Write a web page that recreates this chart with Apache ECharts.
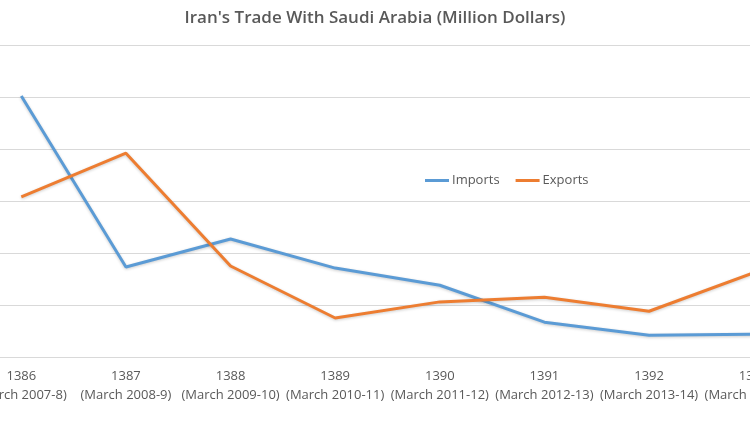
<!DOCTYPE html>
<html>
<head>
<meta charset="utf-8">
<script src="https://cdn.jsdelivr.net/npm/echarts@6/dist/echarts.min.js"></script>
<style>html,body{margin:0;padding:0;background:#fff;}#c{width:750px;height:422px;}</style>
</head>
<body>
<div id="c"></div>
<script>
var categories = ['1386\n(March 2007-8)', '1387\n(March 2008-9)', '1388\n(March 2009-10)', '1389\n(March 2010-11)', '1390\n(March 2011-12)', '1391\n(March 2012-13)', '1392\n(March 2013-14)', '1393\n(March 2014-15)'];
var imports = [502, 173, 227, 171, 138, 67, 42, 44];
var exports_ = [308, 392, 175, 75, 106, 115, 88, 162];
var seriesNames = ['Imports', 'Exports'];

var chart = echarts.init(document.getElementById('c'), null, {renderer: 'canvas'});
chart.setOption({
  animation: false,
  backgroundColor: '#ffffff',
  title: {
    text: "Iran's Trade With Saudi Arabia (Million Dollars)",
    left: 'center', top: 5,
    textStyle: {fontFamily: 'Open Sans', fontSize: 17, fontWeight: 600, color: '#595959'}
  },
  legend: {
    data: seriesNames,
    left: 420, top: 169,
    itemWidth: 24, itemHeight: 3, itemGap: 16,
    icon: 'rect',
    textStyle: {fontFamily: 'Open Sans', fontSize: 13, color: '#595959', padding: [0,0,0,-2]}
  },
  grid: {left: -31, right: -56, top: 45, bottom: 65, outerBoundsMode: 'none', containLabel: false},
  xAxis: {
    type: 'category', data: categories, boundaryGap: true,
    axisLine: {lineStyle: {color: '#d9d9d9', width: 1}},
    axisTick: {show: false},
    axisLabel: {interval: 0, fontFamily: 'Open Sans', fontSize: 13, color: '#595959', lineHeight: 19, margin: 10}
  },
  yAxis: {
    type: 'value', min: 0, max: 600, interval: 100,
    axisLabel: {show: false}, axisLine: {show: false}, axisTick: {show: false},
    splitLine: {lineStyle: {color: '#d9d9d9', width: 1}}
  },
  series: [
    {name: seriesNames[0], type: 'line', data: imports, symbol: 'none',
     lineStyle: {color: '#5b9bd5', width: 3, shadowColor: 'rgba(0,0,0,0.2)', shadowBlur: 3, shadowOffsetY: 1},
     itemStyle: {color: '#5b9bd5'}},
    {name: seriesNames[1], type: 'line', data: exports_, symbol: 'none',
     lineStyle: {color: '#ed7d31', width: 3, shadowColor: 'rgba(0,0,0,0.2)', shadowBlur: 3, shadowOffsetY: 1},
     itemStyle: {color: '#ed7d31'}}
  ]
});
</script>
</body>
</html>
